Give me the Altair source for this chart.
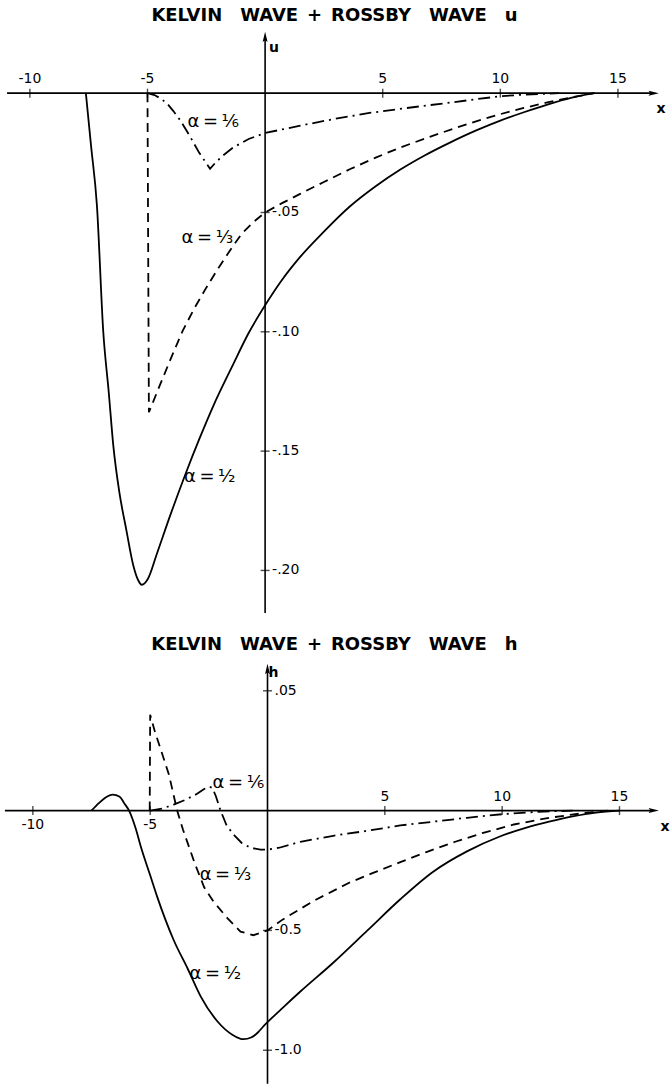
import altair as alt
import pandas as pd

# ---------------- data ----------------
# upper panel: u(x)
U_X_HALF = [-7.62, -7.4, -7.15, -6.88, -6.65, -6.45, -6.2, -5.9, -5.6, -5.4, -5.24, -4.98, -4.6,
            -4.0, -3.4, -2.8, -2.2, -1.4, -0.7, 0.0, 0.7, 1.5, 2.5, 3.6, 4.7, 5.75,
            6.8, 7.9, 9.0, 10.0, 11.0, 12.0, 13.0, 14.0]
U_HALF = [0.0, -0.022, -0.047, -0.1, -0.125, -0.148, -0.167, -0.183, -0.198, -0.204, -0.206, -0.2035,
          -0.193, -0.176, -0.160, -0.145, -0.131, -0.1145, -0.1005, -0.0889, -0.0785, -0.0685, -0.058,
          -0.0475, -0.039, -0.032, -0.026, -0.0205, -0.0155, -0.0115, -0.008, -0.0048, -0.002, 0.0]

U_X_THIRD = [-5.0, -4.94, -4.5, -4.0, -3.5, -3.0, -2.5, -2.0, -1.5, -1.0, -0.5, 0.0, 0.7, 1.49, 2.5,
             3.62, 4.7, 5.74, 7.0, 8.0, 9.0, 10.0, 11.0, 12.0, 13.0, 14.0]
U_THIRD = [0.0, -0.1337, -0.123, -0.111, -0.0995, -0.090, -0.0815, -0.0735, -0.066, -0.059, -0.054,
           -0.050, -0.0462, -0.0422, -0.0372, -0.0318, -0.027, -0.0228, -0.0183, -0.0149, -0.0117,
           -0.0088, -0.0062, -0.0039, -0.0018, 0.0]

U_X_SIXTH = [-5.0, -4.7, -4.4, -4.15, -3.9, -3.6, -3.2, -2.8, -2.34, -2.1, -1.8, -1.36, -0.7, 0.0,
             1.5, 3.0, 4.5, 5.8, 7.0, 8.0, 9.0, 10.0, 11.0, 12.5]
U_SIXTH = [0.0, -0.0008, -0.0025, -0.0045, -0.0075, -0.0115, -0.018, -0.025, -0.0317, -0.029, -0.0262,
           -0.0228, -0.0192, -0.0167, -0.0136, -0.0107, -0.0082, -0.0065, -0.005, -0.0038, -0.0025,
           -0.0013, -0.0006, 0.0]

# lower panel: h(x)
H_X_HALF = [-7.5, -7.2, -6.9, -6.6, -6.3, -6.1, -5.9, -5.6, -5.4, -5.0, -4.7, -4.0, -3.4, -2.85,
            -2.13, -1.5, -1.02, -0.7, -0.4, -0.2, 0.0, 0.68, 1.4, 2.8, 4.26, 5.66, 7.06, 8.5, 9.9,
            11.0, 12.0, 13.0, 14.0, 15.0]
H_HALF = [0.0, 0.03, 0.055, 0.067, 0.058, 0.03, 0.0, -0.08, -0.15, -0.27, -0.36, -0.54, -0.66, -0.775,
          -0.88, -0.935, -0.954, -0.947, -0.925, -0.903, -0.883, -0.82, -0.755, -0.635, -0.50, -0.37,
          -0.255, -0.17, -0.108, -0.072, -0.046, -0.024, -0.008, 0.0]

H_X_THIRD = [-5.02, -5.0, -4.8, -4.5, -4.2, -3.85, -3.6, -3.1, -2.7, -2.3, -1.7, -1.15, -0.6, 0.0,
             0.64, 1.4, 2.1, 2.8, 3.5, 4.5, 5.66, 6.8, 8.0, 9.15, 10.5, 12.0, 13.5, 14.5]
H_THIRD = [0.0, 0.40, 0.33, 0.24, 0.15, 0.0, -0.08, -0.22, -0.32, -0.38, -0.45, -0.505, -0.52, -0.50,
           -0.455, -0.41, -0.37, -0.335, -0.30, -0.26, -0.215, -0.172, -0.13, -0.094, -0.058, -0.03,
           -0.01, 0.0]

H_X_SIXTH = [-5.0, -4.5, -4.0, -3.5, -3.0, -2.7, -2.5, -2.35, -2.2, -2.0, -1.75, -1.45, -1.1, -0.72,
             -0.3, 0.0, 0.5, 1.4, 2.8, 4.2, 5.66, 7.0, 8.5, 10.0, 11.5, 13.0]
H_SIXTH = [0.0, 0.008, 0.025, 0.045, 0.07, 0.09, 0.1, 0.095, 0.06, 0.0, -0.06, -0.1, -0.135, -0.155,
           -0.163, -0.163, -0.155, -0.13, -0.105, -0.085, -0.062, -0.047, -0.03, -0.015, -0.005, 0.0]

# axis ticks and labels
X_TICKS = [-10, -5, 5, 10, 15]
X_TICK_LABELS = ["-10", "-5", "5", "10", "15"]
U_TICKS = [-0.05, -0.10, -0.15, -0.20]
U_TICK_LABELS = ["-.05", "-.10", "-.15", "-.20"]
H_TICKS = [0.5, -0.5, -1.0]
H_TICK_LABELS = [".05", "-0.5", "-1.0"]

TS = "\u2009"
CURVE_LABELS = [f"\u03b1{TS}={TS}\u2159", f"\u03b1{TS}={TS}\u2153", f"\u03b1{TS}={TS}\u00bd"]
U_LABEL_X = [-3.3, -3.55, -3.45]
U_LABEL_Y = [-0.0119, -0.0609, -0.1609]
H_LABEL_X = [-2.34, -2.89, -3.32]
H_LABEL_Y = [0.115, -0.267, -0.683]

SP = "\u2002"
TITLE_U = f"KELVIN{SP}{SP}WAVE{SP}+{SP}ROSSBY{SP}{SP}WAVE{SP}{SP}u"
TITLE_H = f"KELVIN{SP}{SP}WAVE{SP}+{SP}ROSSBY{SP}{SP}WAVE{SP}{SP}h"

# ---------------- chart ----------------
FONT = "DejaVu Sans"
ARROW = "M0,-1L-0.42,0.75L0,0.45L0.42,0.75Z"
DASH = [9, 6]
DASHDOT = [12, 5, 2, 5]


def panel(p):
    xs = alt.Scale(domain=p["xdom"], nice=False, zero=False)
    ys = alt.Scale(domain=p["ydom"], nice=False, zero=False)

    def X(f):
        return alt.X(f"{f}:Q", scale=xs, axis=None)

    def Y(f):
        return alt.Y(f"{f}:Q", scale=ys, axis=None)

    layers = []
    # axis lines
    ax = pd.DataFrame({"x": [p["xa0"], 0.0], "x2": [p["xa1"], 0.0],
                       "y": [0.0, p["ya0"]], "y2": [0.0, p["ya1"]]})
    layers.append(alt.Chart(ax).mark_rule(color="black", strokeWidth=1.6).encode(
        x=X("x"), x2="x2", y=Y("y"), y2="y2"))
    # arrow heads
    ar = pd.DataFrame({"x": [p["xa1"], 0.0], "y": [0.0, p["ya1"]], "ang": [90, 0]})
    layers.append(alt.Chart(ar).mark_point(shape=ARROW, filled=True, size=140, color="black",
                                           opacity=1, strokeWidth=0).encode(
        x=X("x"), y=Y("y"), angle=alt.Angle("ang:Q", scale=None)))
    # x ticks
    xt = pd.DataFrame({"x": X_TICKS, "y": [0.0] * len(X_TICKS), "label": X_TICK_LABELS,
                       "above": p["xabove"]})
    layers.append(alt.Chart(xt).mark_tick(orient="vertical", size=9, thickness=1.4,
                                          color="black").encode(x=X("x"), y=Y("y")))
    up = xt[xt["above"]]
    dn = xt[~xt["above"]]
    if len(up):
        layers.append(alt.Chart(up).mark_text(font=FONT, fontSize=14, dy=-14, color="black",
                                              baseline="middle").encode(
            x=X("x"), y=Y("y"), text="label:N"))
    if len(dn):
        layers.append(alt.Chart(dn).mark_text(font=FONT, fontSize=14, dy=14, color="black",
                                              baseline="middle").encode(
            x=X("x"), y=Y("y"), text="label:N"))
    # y ticks
    yt = pd.DataFrame({"x": [0.0] * len(p["yticks"]), "y": p["yticks"], "label": p["ylabels"]})
    layers.append(alt.Chart(yt).mark_tick(orient="horizontal", size=9, thickness=1.4,
                                          color="black").encode(x=X("x"), y=Y("y")))
    layers.append(alt.Chart(yt).mark_text(font=FONT, fontSize=14, dx=7, align="left",
                                          baseline="middle", color="black").encode(
        x=X("x"), y=Y("y"), text="label:N"))
    # curves
    styles = [None, DASH, DASHDOT]
    interps = ["monotone", "linear", "linear"]
    for (xv, yv), dash, interp in zip(p["curves"], styles, interps):
        df = pd.DataFrame({"x": xv, "y": yv, "o": list(range(len(xv)))})
        kw = dict(color="black", strokeWidth=1.8, interpolate=interp)
        if dash:
            kw["strokeDash"] = dash
        layers.append(alt.Chart(df).mark_line(**kw).encode(
            x=X("x"), y=Y("y"), order="o:Q"))
    # curve labels
    lab = pd.DataFrame({"x": p["labx"], "y": p["laby"], "t": CURVE_LABELS})
    layers.append(alt.Chart(lab).mark_text(font=FONT, fontSize=18, align="left",
                                           baseline="middle", color="black").encode(
        x=X("x"), y=Y("y"), text="t:N"))
    # variable names, x label and title
    txt = pd.DataFrame({"x": [p["var"][0], p["xlab"][0]], "y": [p["var"][1], p["xlab"][1]],
                        "t": [p["var"][2], "x"]})
    layers.append(alt.Chart(txt).mark_text(font=FONT, fontSize=14, fontWeight="bold",
                                           baseline="middle", color="black").encode(
        x=X("x"), y=Y("y"), text="t:N"))
    tt = pd.DataFrame({"x": [p["title"][0]], "y": [p["title"][1]], "t": [p["title"][2]]})
    layers.append(alt.Chart(tt).mark_text(font=FONT, fontSize=18, fontWeight="bold",
                                          baseline="middle", color="black").encode(
        x=X("x"), y=Y("y"), text="t:N"))
    return alt.layer(*layers).properties(width=670, height=p["height"])


top = panel(dict(
    xdom=[-11.27, 17.17], ydom=[-0.2249, 0.0387], height=630,
    xa0=-10.97, xa1=16.49, ya0=-0.2178, ya1=0.0233,
    xabove=[True] * 5, yticks=U_TICKS, ylabels=U_TICK_LABELS,
    curves=[(U_X_HALF, U_HALF), (U_X_THIRD, U_THIRD), (U_X_SIXTH, U_SIXTH)],
    labx=U_LABEL_X, laby=U_LABEL_Y,
    var=(0.38, 0.019, "u"), xlab=(16.83, -0.0065), title=(2.95, 0.0324, TITLE_U),
))

bottom = panel(dict(
    xdom=[-11.40, 17.11], ydom=[-1.1417, 0.7542], height=455,
    xa0=-11.19, xa1=16.43, ya0=-1.14, ya1=0.588,
    xabove=[False, False, True, True, True], yticks=H_TICKS, ylabels=H_TICK_LABELS,
    curves=[(H_X_HALF, H_HALF), (H_X_THIRD, H_THIRD), (H_X_SIXTH, H_SIXTH)],
    labx=H_LABEL_X, laby=H_LABEL_Y,
    var=(0.25, 0.575, "h"), xlab=(16.94, -0.067), title=(2.85, 0.692, TITLE_H),
))

chart = alt.vconcat(top, bottom, spacing=0).properties(padding=0).configure_view(strokeWidth=0)
chart.save("out.html", embed_options={"renderer": "svg", "actions": False})
